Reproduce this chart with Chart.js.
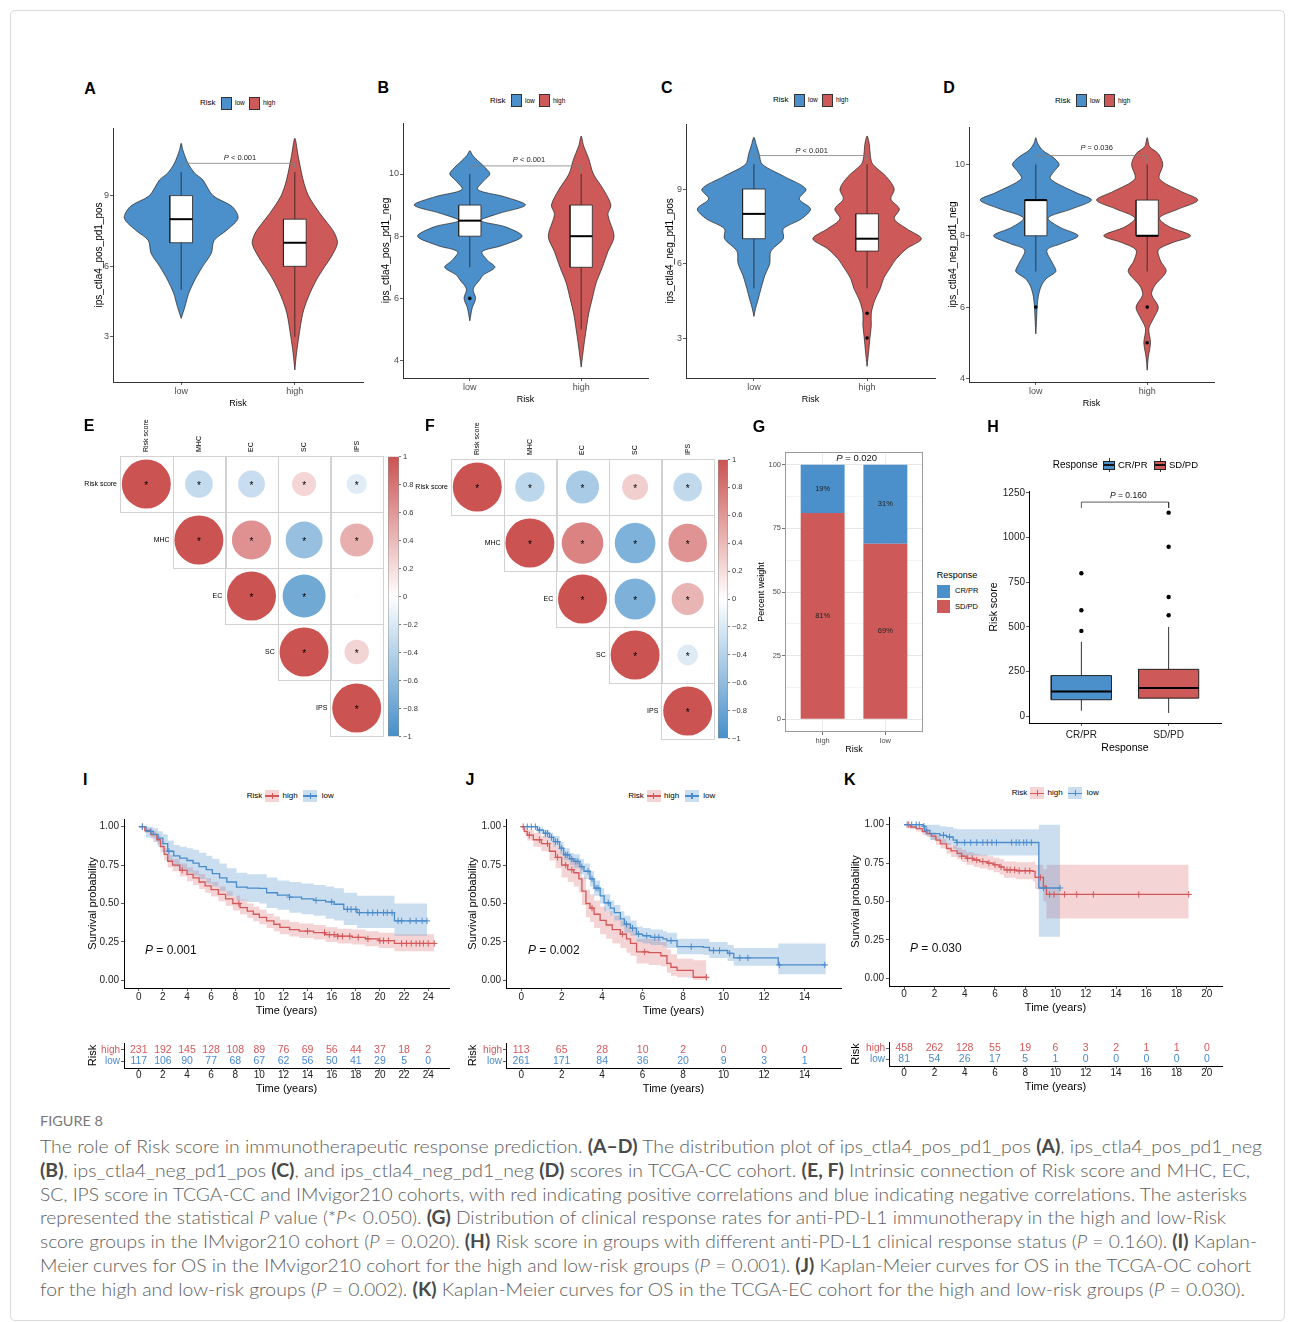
<!DOCTYPE html>
<html lang="en">
<head>
<meta charset="utf-8">
<title>Figure 8</title>
<script src="https://cdn.jsdelivr.net/npm/chart.js@4.4.1/dist/chart.umd.min.js"></script>
<style>
  html, body { margin: 0; padding: 0; background: #ffffff; }
  body { position: relative; width: 1295px; height: 1322px; overflow: hidden; font-family: "Liberation Sans", Arial, sans-serif; }
  #frame { position: absolute; left: 10px; top: 10px; width: 1273px; height: 1309px; border: 1px solid #dadada; border-radius: 5px; }
  canvas { position: absolute; }
  .tx { position: absolute; white-space: nowrap; line-height: 1; color: #000; }
  .bx { position: absolute; box-sizing: border-box; }
  .cap { position: absolute; left: 40px; white-space: nowrap; line-height: 1; font-family: Lato, "Open Sans", sans-serif; font-weight: 300; font-size: 18px; color: #5e5e5e; transform-origin: 0 50%; }
  .cap b { font-weight: 700; color: #4a4a4a; }
</style>
</head>
<body>
<div id="frame"></div>
<script>
// ---------------- data ----------------
const riskGroups = ["low", "high"];

// A  ips_ctla4_pos_pd1_pos (violin outline: value, half width)
const aTicks = [3, 6, 9];
const aLowY = [3.79, 4.3, 4.85, 5.42, 6.0, 6.55, 7.1, 7.53, 8.04, 8.53, 9.0, 9.67, 9.95, 10.37, 10.93, 11.22];
const aLowW = [0, 0.034, 0.066, 0.12, 0.19, 0.265, 0.29, 0.40, 0.5, 0.45, 0.28, 0.19, 0.12, 0.06, 0.015, 0];
const aHighY = [1.6, 2.31, 3.0, 4.0, 4.71, 5.42, 6.0, 6.4, 6.97, 7.4, 7.82, 8.25, 9.0, 9.67, 10.67, 11.43];
const aHighW = [0, 0.015, 0.035, 0.07, 0.12, 0.19, 0.265, 0.32, 0.375, 0.35, 0.29, 0.22, 0.12, 0.073, 0.03, 0];
const aLowBox = [5, 7, 8, 9, 10];
const aHighBox = [3, 6, 7, 8, 10];
const aLowOut = [];
const aHighOut = [];

// B  ips_ctla4_pos_pd1_neg
const bTicks = [4, 6, 8, 10];
const bLowY = [5.28, 5.7, 6.0, 6.3, 6.6, 6.75, 7.0, 7.22, 7.5, 7.7, 8.0, 8.3, 8.5, 8.73, 9.0, 9.27, 9.5, 9.8, 10.0, 10.2, 10.4, 10.6, 10.75];
const bLowW = [0, 0.022, 0.052, 0.03, 0.09, 0.12, 0.225, 0.16, 0.11, 0.29, 0.47, 0.32, 0.1, 0.26, 0.5, 0.31, 0.07, 0.13, 0.18, 0.14, 0.08, 0.025, 0];
const bHighY = [3.79, 4.5, 5.0, 5.5, 6.0, 6.5, 7.0, 7.5, 8.0, 8.7, 9.0, 9.5, 10.0, 10.5, 10.9, 11.22];
const bHighW = [0, 0.025, 0.045, 0.067, 0.1, 0.135, 0.19, 0.24, 0.295, 0.24, 0.267, 0.2, 0.11, 0.067, 0.022, 0];
const bLowBox = [7, 8, 8.5, 9, 10];
const bHighBox = [5, 7, 8, 9, 10];
const bLowOut = [6];
const bHighOut = [];

// C  ips_ctla4_neg_pd1_pos
const cTicks = [3, 6, 9];
const cLowY = [3.87, 4.2, 4.5, 5.0, 5.5, 6.0, 6.5, 7.0, 7.4, 7.8, 8.2, 8.6, 9.0, 9.5, 10.0, 10.4, 10.8, 11.09];
const cLowW = [0, 0.015, 0.034, 0.063, 0.095, 0.14, 0.15, 0.26, 0.26, 0.42, 0.5, 0.40, 0.46, 0.27, 0.073, 0.047, 0.02, 0];
const cHighY = [1.86, 2.5, 3.0, 3.5, 4.0, 4.5, 5.0, 5.4, 5.8, 6.2, 6.6, 7.0, 7.4, 7.8, 8.2, 8.6, 9.0, 9.5, 10.0, 10.3, 10.8, 11.14];
const cHighW = [0, 0.015, 0.025, 0.037, 0.037, 0.066, 0.117, 0.146, 0.2, 0.26, 0.35, 0.48, 0.35, 0.24, 0.285, 0.21, 0.24, 0.17, 0.05, 0.03, 0.02, 0];
const cLowBox = [5, 7, 8, 9, 10];
const cHighBox = [5, 6.5, 7, 8, 10];
const cLowOut = [];
const cHighOut = [4, 3];

// D  ips_ctla4_neg_pd1_neg
const dTicks = [4, 6, 8, 10];
const dLowY = [5.25, 5.6, 6.0, 6.3, 6.6, 6.8, 7.0, 7.2, 7.6, 7.78, 8.0, 8.24, 8.5, 8.75, 9.0, 9.21, 9.6, 9.83, 10.0, 10.2, 10.4, 10.6, 10.75];
const dLowW = [0, 0.006, 0.012, 0.022, 0.05, 0.095, 0.18, 0.155, 0.1, 0.23, 0.38, 0.215, 0.11, 0.32, 0.5, 0.36, 0.13, 0.17, 0.21, 0.155, 0.06, 0.015, 0];
const dHighY = [4.23, 4.6, 5.0, 5.4, 5.7, 6.0, 6.35, 6.6, 7.0, 7.3, 7.6, 7.8, 8.0, 8.25, 8.5, 8.75, 9.0, 9.25, 9.6, 10.0, 10.3, 10.5, 10.75];
const dHighW = [0, 0.01, 0.03, 0.015, 0.06, 0.1, 0.04, 0.067, 0.17, 0.12, 0.1, 0.22, 0.39, 0.2, 0.11, 0.28, 0.455, 0.3, 0.11, 0.14, 0.1, 0.022, 0];
const dLowBox = [7, 8, 9, 9, 10];
const dHighBox = [7, 8, 8, 9, 10];
const dLowOut = [6];
const dHighOut = [6, 5];

// E, F  correlation (upper triangle) and significance
const corrLabels = ["Risk score", "MHC", "EC", "SC", "IPS"];
const corrE = [
  [1, -0.32, -0.30, 0.24, -0.17],
  [null, 1, 0.64, -0.57, 0.46],
  [null, null, 1, -0.77, 0.02],
  [null, null, null, 1, 0.25],
  [null, null, null, null, 1]
];
const sigE = [
  [1, 1, 1, 1, 1],
  [0, 1, 1, 1, 1],
  [0, 0, 1, 1, 0],
  [0, 0, 0, 1, 1],
  [0, 0, 0, 0, 1]
];
const corrF = [
  [1, -0.36, -0.46, 0.28, -0.34],
  [null, 1, 0.72, -0.69, 0.62],
  [null, null, 1, -0.70, 0.43],
  [null, null, null, 1, -0.18],
  [null, null, null, null, 1]
];
const sigF = [
  [1, 1, 1, 1, 1],
  [0, 1, 1, 1, 1],
  [0, 0, 1, 1, 1],
  [0, 0, 0, 1, 1],
  [0, 0, 0, 0, 1]
];
const cbTicks = [-1, -0.8, -0.6, -0.4, -0.2, 0, 0.2, 0.4, 0.6, 0.8, 1];

// G  response rate
const gRisk = ["high", "low"];
const gCRPR = [19, 31];
const gSDPD = [81, 69];
const gTicks = [0, 12.5, 25, 37.5, 50, 62.5, 75, 87.5, 100];

// H  risk score by response (whisker low, q1, median, q3, whisker high)
const hGroups = ["CR/PR", "SD/PD"];
const hTicks = [0, 250, 500, 750, 1000, 1250];
const hBoxCR = [32, 93, 139, 228, 417];
const hOutCR = [478, 593, 800];
const hBoxSD = [19, 102, 158, 263, 500];
const hOutSD = [565, 667, 948, 1139];

// I  IMvigor210 KM
const survTicks = [0, 0.25, 0.5, 0.75, 1];
const iTimes = [0, 2, 4, 6, 8, 10, 12, 14, 16, 18, 20, 22, 24];
const iHighT = [0, 0.5, 1.0, 1.5, 1.8, 2.1, 2.4, 2.8, 3.4, 4.0, 4.5, 5.0, 5.5, 6.0, 6.6, 7.2, 7.8, 8.4, 9.0, 9.5, 10.0, 10.6, 11.2, 11.7, 12.5, 13.3, 14.5, 15.5, 16.5, 17.7, 18.8, 19.9, 21.2, 24.5];
const iHighS = [1, 0.975, 0.948, 0.915, 0.87, 0.82, 0.775, 0.75, 0.716, 0.69, 0.667, 0.64, 0.615, 0.59, 0.56, 0.53, 0.50, 0.473, 0.45, 0.43, 0.41, 0.387, 0.365, 0.344, 0.33, 0.32, 0.31, 0.297, 0.287, 0.28, 0.27, 0.258, 0.24, 0.24];
const iHighLo = [1, 0.96, 0.925, 0.885, 0.835, 0.78, 0.735, 0.71, 0.675, 0.645, 0.62, 0.595, 0.57, 0.545, 0.515, 0.485, 0.455, 0.43, 0.405, 0.385, 0.365, 0.34, 0.32, 0.30, 0.285, 0.275, 0.265, 0.25, 0.24, 0.233, 0.222, 0.21, 0.19, 0.19];
const iHighHi = [1, 0.99, 0.97, 0.945, 0.905, 0.86, 0.815, 0.79, 0.76, 0.735, 0.715, 0.69, 0.665, 0.64, 0.61, 0.58, 0.55, 0.525, 0.50, 0.48, 0.46, 0.435, 0.415, 0.395, 0.38, 0.37, 0.36, 0.345, 0.335, 0.33, 0.32, 0.31, 0.30, 0.30];
const iHighCens = [0.3, 3.6, 8.3, 14.0, 15.4, 15.8, 16.2, 16.5, 16.9, 17.5, 18.2, 19.0, 20.0, 20.3, 20.7, 21.8, 22.2, 22.6, 23.0, 23.3, 23.6, 24.0, 24.5];
const iLowT = [0, 0.6, 1.2, 1.6, 2.0, 2.4, 2.9, 3.4, 4.0, 4.5, 5.0, 5.6, 6.1, 6.7, 7.3, 8.1, 9.0, 10.0, 10.6, 11.5, 12.5, 13.5, 14.5, 15.5, 16.2, 17.0, 18.1, 21.2, 23.9];
const iLowS = [1, 0.97, 0.95, 0.925, 0.89, 0.84, 0.81, 0.795, 0.78, 0.763, 0.74, 0.72, 0.695, 0.667, 0.64, 0.606, 0.60, 0.598, 0.57, 0.555, 0.542, 0.53, 0.52, 0.51, 0.495, 0.462, 0.44, 0.387, 0.387];
const iLowLo = [1, 0.93, 0.90, 0.87, 0.83, 0.77, 0.74, 0.72, 0.70, 0.68, 0.66, 0.63, 0.61, 0.58, 0.55, 0.52, 0.51, 0.50, 0.47, 0.46, 0.44, 0.43, 0.42, 0.40, 0.39, 0.36, 0.34, 0.29, 0.29];
const iLowHi = [1, 1.0, 0.99, 0.97, 0.95, 0.91, 0.88, 0.87, 0.86, 0.85, 0.83, 0.81, 0.79, 0.76, 0.73, 0.70, 0.69, 0.69, 0.67, 0.65, 0.64, 0.63, 0.62, 0.61, 0.60, 0.57, 0.55, 0.50, 0.50];
const iLowCens = [0.3, 1.0, 2.5, 12.5, 14.7, 16.0, 17.3, 17.6, 18.0, 18.3, 19.0, 19.4, 19.8, 20.3, 20.6, 21.0, 21.5, 21.8, 22.5, 23.0, 23.5, 23.9];
const iHighN = [231, 192, 145, 128, 108, 89, 76, 69, 56, 44, 37, 18, 2];
const iLowN = [117, 106, 90, 77, 68, 67, 62, 56, 50, 41, 29, 5, 0];

// J  TCGA-OC KM
const jTimes = [0, 2, 4, 6, 8, 10, 12, 14];
const jHighT = [0, 0.15, 0.3, 0.6, 1.0, 1.4, 1.7, 2.0, 2.3, 2.6, 2.85, 3.0, 3.2, 3.4, 3.6, 3.9, 4.2, 4.5, 4.9, 5.2, 5.4, 5.7, 6.3, 6.9, 7.2, 7.4, 7.7, 8.5, 9.15];
const jHighS = [1, 0.97, 0.945, 0.915, 0.89, 0.84, 0.80, 0.75, 0.72, 0.70, 0.66, 0.58, 0.50, 0.47, 0.43, 0.39, 0.36, 0.33, 0.30, 0.27, 0.24, 0.185, 0.18, 0.16, 0.11, 0.085, 0.065, 0.02, 0.02];
const jHighLo = [1, 0.95, 0.91, 0.87, 0.84, 0.78, 0.73, 0.67, 0.64, 0.61, 0.57, 0.49, 0.41, 0.38, 0.34, 0.30, 0.27, 0.24, 0.21, 0.18, 0.16, 0.11, 0.10, 0.09, 0.05, 0.03, 0.02, 0.003, 0.003];
const jHighHi = [1, 0.99, 0.98, 0.96, 0.94, 0.90, 0.87, 0.83, 0.80, 0.78, 0.75, 0.67, 0.59, 0.56, 0.52, 0.48, 0.45, 0.42, 0.39, 0.36, 0.33, 0.27, 0.27, 0.25, 0.20, 0.17, 0.14, 0.13, 0.13];
const jHighCens = [0.1, 0.4, 0.9, 1.3, 1.8, 2.2, 2.5, 3.5, 5.0, 6.1, 9.15];
const jLowT = [0, 0.8, 1.1, 1.4, 1.6, 1.9, 2.1, 2.4, 2.6, 2.9, 3.1, 3.4, 3.6, 3.9, 4.1, 4.4, 4.6, 4.9, 5.1, 5.4, 5.7, 6.0, 6.4, 7.0, 7.2, 7.7, 9.0, 9.3, 10.2, 10.5, 12.7, 15.05];
const jLowS = [1, 0.978, 0.957, 0.93, 0.903, 0.86, 0.817, 0.79, 0.774, 0.74, 0.71, 0.66, 0.60, 0.55, 0.505, 0.47, 0.44, 0.40, 0.366, 0.34, 0.301, 0.29, 0.28, 0.27, 0.258, 0.219, 0.215, 0.194, 0.176, 0.146, 0.10, 0.10];
const jLowLo = [1, 0.96, 0.93, 0.90, 0.87, 0.82, 0.78, 0.75, 0.73, 0.69, 0.66, 0.61, 0.55, 0.50, 0.45, 0.42, 0.39, 0.35, 0.31, 0.29, 0.25, 0.24, 0.23, 0.22, 0.21, 0.17, 0.165, 0.145, 0.125, 0.095, 0.04, 0.04];
const jLowHi = [1, 0.995, 0.98, 0.96, 0.94, 0.90, 0.86, 0.83, 0.82, 0.79, 0.76, 0.71, 0.65, 0.60, 0.56, 0.52, 0.49, 0.45, 0.42, 0.39, 0.35, 0.34, 0.33, 0.32, 0.31, 0.27, 0.27, 0.25, 0.23, 0.21, 0.24, 0.24];
const jLowCens = [0.3, 0.5, 0.7, 0.9, 1.2, 1.3, 1.5, 1.7, 1.8, 2.0, 2.2, 2.3, 2.5, 2.7, 2.8, 3.0, 3.3, 3.5, 3.7, 3.8, 4.3, 5.2, 5.5, 5.8, 6.2, 6.6, 6.8, 7.4, 8.4, 9.5, 9.8, 10.3, 10.8, 11.2, 12.75, 15.0];
const jHighN = [113, 65, 28, 10, 2, 0, 0, 0];
const jLowN = [261, 171, 84, 36, 20, 9, 3, 1];

// K  TCGA-EC KM
const kTimes = [0, 2, 4, 6, 8, 10, 12, 14, 16, 18, 20];
const kHighT = [0, 0.4, 0.8, 1.2, 1.5, 1.8, 2.1, 2.4, 2.8, 3.1, 3.5, 3.8, 4.1, 4.6, 5.0, 5.5, 5.9, 6.3, 6.6, 7.4, 8.5, 8.65, 9.2, 9.4, 18.8];
const kHighS = [1, 0.985, 0.974, 0.955, 0.942, 0.925, 0.90, 0.875, 0.845, 0.83, 0.813, 0.795, 0.781, 0.77, 0.76, 0.75, 0.739, 0.725, 0.706, 0.70, 0.696, 0.657, 0.60, 0.546, 0.546];
const kHighLo = [1, 0.97, 0.955, 0.935, 0.92, 0.90, 0.87, 0.845, 0.81, 0.79, 0.775, 0.755, 0.74, 0.725, 0.715, 0.705, 0.69, 0.675, 0.655, 0.645, 0.63, 0.58, 0.50, 0.39, 0.39];
const kHighHi = [1, 0.995, 0.99, 0.975, 0.965, 0.95, 0.93, 0.905, 0.88, 0.865, 0.85, 0.835, 0.82, 0.81, 0.805, 0.795, 0.785, 0.775, 0.76, 0.755, 0.76, 0.74, 0.71, 0.74, 0.74];
const kHighCens = [0.3, 3.8, 4.2, 4.5, 4.8, 5.2, 5.6, 6.0, 6.4, 6.8, 7.0, 7.3, 7.6, 8.0, 8.3, 9.0, 9.6, 9.9, 10.6, 11.4, 12.5, 15.5, 18.8];
const kLowT = [0, 1.25, 1.36, 1.69, 2.36, 2.8, 3.24, 3.46, 8.9, 10.3];
const kLowS = [1, 0.99, 0.963, 0.942, 0.931, 0.92, 0.899, 0.884, 0.588, 0.588];
const kLowLo = [1, 0.97, 0.93, 0.90, 0.88, 0.87, 0.84, 0.80, 0.27, 0.27];
const kLowHi = [1, 1, 1, 1, 0.99, 0.985, 0.975, 0.97, 1, 1];
const kLowCens = [0.2, 0.5, 0.8, 1.0, 1.3, 1.5, 2.6, 3.0, 3.5, 4.0, 4.4, 4.8, 5.2, 5.5, 5.8, 6.1, 7.1, 7.4, 7.6, 7.9, 8.1, 8.4, 9.2, 10.3];
const kHighN = [458, 262, 128, 55, 19, 6, 3, 2, 1, 1, 0];
const kLowN = [81, 54, 26, 17, 5, 1, 0, 0, 0, 0, 0];

// ---------------- style ----------------
const COL_LOW = "#4b8fcb";
const COL_HIGH = "#cd5a58";
const KM_RED = "#d4585a";
const KM_BLUE = "#4a8bcb";
const BAND_RED = "rgba(214, 96, 98, 0.27)";
const BAND_BLUE = "rgba(80, 145, 205, 0.30)";
const FONT = '"Liberation Sans", Arial, sans-serif';
const CORR_R = 24.5; // radius in px of a |r| = 1 circle

Chart.defaults.font.family = FONT;
Chart.defaults.color = "#4d4d4d";
Chart.defaults.animation = false;
Chart.defaults.responsive = false;
Chart.defaults.devicePixelRatio = 1;
Chart.defaults.events = [];
Chart.defaults.layout.autoPadding = false;
Chart.defaults.plugins.legend.display = false;
Chart.defaults.plugins.tooltip.enabled = false;
Chart.defaults.elements.point.radius = 0;
Chart.defaults.elements.point.hoverRadius = 0;

// ---------------- helpers ----------------
function place(area, m) {
  const cv = document.createElement("canvas");
  const w = area[2] - area[0] + m.l + m.r;
  const h = area[3] - area[1] + m.t + m.b;
  cv.width = w; cv.height = h;
  cv.style.left = (area[0] - m.l) + "px";
  cv.style.top = (area[1] - m.t) + "px";
  cv.style.width = w + "px"; cv.style.height = h + "px";
  document.body.appendChild(cv);
  return cv;
}

function tx(x, y, html, size, opts = {}) {
  const d = document.createElement("div");
  d.className = "tx";
  d.innerHTML = html;
  d.style.left = x + "px";
  d.style.top = y + "px";
  d.style.fontSize = size + "px";
  if (opts.bold) d.style.fontWeight = "bold";
  if (opts.color) d.style.color = opts.color;
  d.style.transform = opts.center ? "translate(-50%,-50%)" : "translate(0,-50%)";
  document.body.appendChild(d);
  return d;
}

function bx(x, y, w, h, css) {
  const d = document.createElement("div");
  d.className = "bx";
  Object.assign(d.style, { left: x + "px", top: y + "px", width: w + "px", height: h + "px" }, css);
  document.body.appendChild(d);
  return d;
}

function axis(o) {
  const horiz = o.pos === "bottom" || o.pos === "top";
  return {
    type: "linear", position: o.pos, min: o.min, max: o.max, reverse: !!o.reverse, offset: false,
    stacked: !!o.stacked,
    afterBuildTicks: s => { s.ticks = o.ticks.map(v => ({ value: v })); },
    afterFit: s => { if (horiz) s.height = o.size; else s.width = o.size; },
    grid: {
      display: true, offset: false, drawOnChartArea: !!o.grid, color: o.grid || "rgba(0,0,0,0)", lineWidth: o.gridWidth || 1,
      drawTicks: true, tickLength: o.tl === undefined ? 3 : o.tl, tickColor: o.tickColor || "#333", tickWidth: o.tw || 0.8
    },
    border: { display: o.border !== false, color: o.axisColor || "#333", width: o.aw || 1 },
    ticks: {
      autoSkip: false, maxRotation: 0, minRotation: 0, padding: o.pad === undefined ? 2 : o.pad,
      color: o.labelColor || "#4d4d4d", font: { size: o.fs || 9 }, callback: o.fmt || (v => v)
    },
    title: {
      display: !!o.title, text: o.title || "", color: "#000", font: { size: o.tfs || 10 },
      padding: { top: o.tpad || 0, bottom: o.tpad || 0 }
    }
  };
}

function outline(c, ys, ws) {
  const pts = [];
  for (let i = 0; i < ys.length; i++) pts.push({ x: c + ws[i], y: ys[i] });
  for (let i = ys.length - 2; i >= 1; i--) pts.push({ x: c - ws[i], y: ys[i] });
  pts.push({ x: c, y: ys[0] });
  return pts;
}

function rect(c, hw, lo, hi) {
  return [{ x: c - hw, y: lo }, { x: c + hw, y: lo }, { x: c + hw, y: hi }, { x: c - hw, y: hi }, { x: c - hw, y: lo }];
}

function pts(ts, vs) { return ts.map((t, i) => ({ x: t, y: vs[i] })); }

function stepAt(t, ts, ss) {
  let v = ss[0];
  for (let i = 0; i < ts.length; i++) if (ts[i] <= t) v = ss[i];
  return v;
}

function corrColor(v) {
  const a = Math.min(1, Math.abs(v));
  const end = v < 0 ? [70, 143, 201] : [203, 83, 81];
  const c = end.map(k => Math.round(255 + (k - 255) * a));
  return "rgb(" + c.join(",") + ")";
}

// ---------------- violin panels (A-D) ----------------
function violinPanel(area, m, p) {
  const cv = place(area, m);
  const ds = [];
  p.groups.forEach((g, gi) => {
    const c = gi + 1;
    ds.push({ data: outline(c, g.y, g.w), fill: "shape", backgroundColor: g.color, borderColor: "#222", borderWidth: 0.7, tension: 0.3, order: 10 });
    ds.push({ data: [{ x: c, y: g.box[0] }, { x: c, y: g.box[4] }], borderColor: "#222", borderWidth: 0.8, order: 9 });
    ds.push({ data: rect(c, 0.1, g.box[1], g.box[3]), fill: "shape", backgroundColor: "#fff", borderColor: "#222", borderWidth: 0.8, order: 8 });
    ds.push({ data: [{ x: c - 0.1, y: g.box[2] }, { x: c + 0.1, y: g.box[2] }], borderColor: "#000", borderWidth: 2, order: 7 });
    ds.push({ data: g.out.map(v => ({ x: c, y: v })), showLine: false, pointRadius: 1.8, pointBackgroundColor: "#000", pointBorderWidth: 0, order: 6 });
  });
  ds.push({ data: [{ x: 1, y: p.br - 0.2 }, { x: 1, y: p.br }, { x: 2, y: p.br }, { x: 2, y: p.br - 0.2 }], borderColor: "#808080", borderWidth: 0.8, order: 1 });
  new Chart(cv, {
    type: "line",
    data: { datasets: ds },
    options: {
      layout: { padding: { top: m.t, right: m.r, left: 0, bottom: 0 } },
      scales: {
        x: axis({ pos: "bottom", min: 0.4, max: 2.6, ticks: [1, 2], size: m.b, fs: 9, tl: 3, pad: 1, fmt: v => riskGroups[v - 1], title: "Risk", tfs: 9, tpad: 3 }),
        y: axis({ pos: "left", min: p.min, max: p.max, ticks: p.ticks, size: m.l, fs: 9, tl: 3, pad: p.tp, title: p.title, tfs: 10, tpad: p.tpad })
      }
    }
  });
}

violinPanel([113, 128, 363, 382], { l: 22, t: 8, r: 6, b: 30 }, {
  min: 1.09, max: 11.87, ticks: aTicks, title: "ips_ctla4_pos_pd1_pos", tpad: 2.5, tp: 1, br: 10.37,
  groups: [{ y: aLowY, w: aLowW, box: aLowBox, out: aLowOut, color: COL_LOW }, { y: aHighY, w: aHighW, box: aHighBox, out: aHighOut, color: COL_HIGH }]
});
violinPanel([403, 123, 648, 378], { l: 24, t: 8, r: 6, b: 30 }, {
  min: 3.44, max: 11.64, ticks: bTicks, title: "ips_ctla4_pos_pd1_neg", tpad: 1.2, tp: 1, br: 10.26,
  groups: [{ y: bLowY, w: bLowW, box: bLowBox, out: bLowOut, color: COL_LOW }, { y: bHighY, w: bHighW, box: bHighBox, out: bHighOut, color: COL_HIGH }]
});
violinPanel([686, 124, 935, 378], { l: 22, t: 8, r: 6, b: 30 }, {
  min: 1.39, max: 11.62, ticks: cTicks, title: "ips_ctla4_neg_pd1_pos", tpad: 0.7, tp: 1, br: 10.35,
  groups: [{ y: cLowY, w: cLowW, box: cLowBox, out: cLowOut, color: COL_LOW }, { y: cHighY, w: cHighW, box: cHighBox, out: cHighOut, color: COL_HIGH }]
});
violinPanel([969, 127, 1214, 382], { l: 22, t: 8, r: 6, b: 30 }, {
  min: 3.9, max: 11.05, ticks: dTicks, title: "ips_ctla4_neg_pd1_neg", tpad: 0, tp: 1, br: 10.25,
  groups: [{ y: dLowY, w: dLowW, box: dLowBox, out: dLowOut, color: COL_LOW }, { y: dHighY, w: dHighW, box: dHighBox, out: dHighOut, color: COL_HIGH }]
});

// legends and p values for A-D
function riskLegend(x, y) {
  tx(x, y, "Risk", 8);
  bx(x + 21, y - 6.5, 11, 13, { background: COL_LOW, border: "1px solid #333" });
  tx(x + 35, y, "low", 6.5);
  bx(x + 49, y - 6.5, 11, 13, { background: COL_HIGH, border: "1px solid #333" });
  tx(x + 63, y, "high", 6.5);
}
riskLegend(200, 103);
riskLegend(490, 100.7);
riskLegend(773, 100);
riskLegend(1055, 100.7);
tx(240, 157.7, "<i>P</i> &lt; 0.001", 7.5, { center: true, color: "#222" });
tx(529, 160, "<i>P</i> &lt; 0.001", 7.5, { center: true, color: "#222" });
tx(811.7, 150.7, "<i>P</i> &lt; 0.001", 7.5, { center: true, color: "#222" });
tx(1096.7, 148.3, "<i>P</i> = 0.036", 7.5, { center: true, color: "#222" });

// ---------------- correlation panels (E, F) ----------------
const corrDeco = {
  id: "corrDeco",
  beforeDatasetsDraw(chart) {
    const { ctx, scales: { x, y } } = chart;
    ctx.save();
    ctx.strokeStyle = "#d2d2d2";
    ctx.lineWidth = 1;
    for (let i = 0; i < 5; i++) for (let j = i; j < 5; j++) {
      const x0 = x.getPixelForValue(j + 0.5), x1 = x.getPixelForValue(j + 1.5);
      const y0 = y.getPixelForValue(i + 0.5), y1 = y.getPixelForValue(i + 1.5);
      ctx.strokeRect(Math.round(x0) + 0.5, Math.round(y0) + 0.5, Math.round(x1 - x0), Math.round(y1 - y0));
    }
    ctx.restore();
  },
  afterDatasetsDraw(chart) {
    const { ctx, scales: { x, y } } = chart;
    const meta = chart.getDatasetMeta(0);
    const d = chart.data.datasets[0].data;
    ctx.save();
    ctx.fillStyle = "#000";
    ctx.textAlign = "center";
    ctx.textBaseline = "middle";
    ctx.font = "10px " + FONT;
    meta.data.forEach((el, k) => { if (d[k].s) ctx.fillText("*", el.x, el.y + 2); });
    ctx.font = "7px " + FONT;
    ctx.textAlign = "right";
    corrLabels.forEach((lab, i) => ctx.fillText(lab, x.getPixelForValue(i + 0.5) - 3, y.getPixelForValue(i + 1)));
    ctx.textAlign = "left";
    corrLabels.forEach((lab, j) => {
      ctx.save();
      ctx.translate(x.getPixelForValue(j + 1), y.getPixelForValue(0.5) - 4);
      ctx.rotate(-Math.PI / 2);
      ctx.fillText(lab, 0, 0);
      ctx.restore();
    });
    ctx.restore();
  }
};

function corrPanel(area, m, mat, sig) {
  const cv = place(area, m);
  const data = [];
  for (let i = 0; i < 5; i++) for (let j = i; j < 5; j++) {
    const v = mat[i][j];
    data.push({ x: j + 1, y: i + 1, r: CORR_R * Math.sqrt(Math.abs(v)), v, s: sig[i][j] });
  }
  new Chart(cv, {
    type: "bubble",
    data: {
      datasets: [{
        data,
        backgroundColor: data.map(p => corrColor(p.v)),
        borderWidth: 0
      }]
    },
    options: {
      layout: { autoPadding: false, padding: { left: m.l, top: m.t, right: m.r, bottom: m.b } },
      scales: {
        x: { type: "linear", display: false, min: 0.5, max: 5.5 },
        y: { type: "linear", display: false, min: 0.5, max: 5.5, reverse: true }
      }
    },
    plugins: [corrDeco]
  });
}

function colorBar(area, m) {
  const cv = place(area, m);
  new Chart(cv, {
    type: "bar",
    data: {
      labels: [""],
      datasets: [{
        data: [[-1, 1]], barPercentage: 1, categoryPercentage: 1,
        borderColor: "#8c8c8c", borderWidth: 0.8, borderSkipped: false,
        backgroundColor: ctx => {
          const ch = ctx.chart, ca = ch.chartArea;
          if (!ca) return "#fff";
          const g = ch.ctx.createLinearGradient(0, ca.bottom, 0, ca.top);
          cbTicks.forEach(v => g.addColorStop((v + 1) / 2, corrColor(v)));
          return g;
        }
      }]
    },
    options: {
      layout: { padding: { top: m.t, bottom: m.b, left: 0, right: 0 } },
      scales: {
        x: { display: false },
        y: axis({
          pos: "right", min: -1, max: 1, ticks: cbTicks, size: m.r, fs: 7.5, tl: 2, pad: 2, border: false,
          labelColor: "#333", tickColor: "#555",
          fmt: v => (v === 0 ? "0" : (v < 0 ? "\u2212" + Math.abs(v) : String(v)))
        })
      }
    }
  });
}

corrPanel([120, 456, 383, 736], { l: 40, t: 41, r: 2, b: 2 }, corrE, sigE);
colorBar([388, 456, 399, 737], { l: 0, t: 6, r: 24, b: 6 });
corrPanel([451, 459, 714, 739], { l: 40, t: 44, r: 2, b: 2 }, corrF, sigF);
colorBar([718, 459, 728, 739], { l: 0, t: 6, r: 24, b: 6 });

// ---------------- G stacked percent bars ----------------
const gDeco = {
  id: "gDeco",
  afterDatasetsDraw(chart) {
    const { ctx, chartArea: a } = chart;
    ctx.save();
    ctx.font = "7.5px " + FONT;
    ctx.fillStyle = "#222";
    ctx.textAlign = "center";
    ctx.textBaseline = "middle";
    chart.data.datasets.forEach((d, di) => chart.getDatasetMeta(di).data.forEach((el, i) => {
      ctx.fillText(d.data[i].y + "%", el.x, (el.y + el.base) / 2);
    }));
    ctx.strokeStyle = "#9a9a9a";
    ctx.lineWidth = 1;
    ctx.strokeRect(a.left + 0.5, a.top + 0.5, a.width - 1, a.height - 1);
    ctx.restore();
  }
};
(function () {
  const m = { l: 30, t: 6, r: 3, b: 26 };
  const cv = place([785, 452, 923, 732], m);
  new Chart(cv, {
    type: "bar",
    data: {
      datasets: [
        { label: "SD/PD", data: gRisk.map((_, i) => ({ x: i + 1, y: gSDPD[i] })), backgroundColor: COL_HIGH, barPercentage: 0.7, categoryPercentage: 1 },
        { label: "CR/PR", data: gRisk.map((_, i) => ({ x: i + 1, y: gCRPR[i] })), backgroundColor: COL_LOW, barPercentage: 0.7, categoryPercentage: 1 }
      ]
    },
    options: {
      layout: { padding: { top: m.t, right: m.r, left: 0, bottom: 0 } },
      scales: {
        x: axis({ pos: "bottom", min: 0.4, max: 2.6, ticks: [1, 2], size: m.b, fs: 7.5, tl: 3, pad: 1, border: false, stacked: true,
          grid: "#ebebeb", tickColor: "#555", fmt: v => gRisk[v - 1], title: "Risk", tfs: 9, tpad: 2.6 }),
        y: axis({ pos: "left", min: -5, max: 105, ticks: gTicks, size: m.l, fs: 7.5, tl: 3, pad: 1, border: false, stacked: true,
          grid: ctx => (ctx.tick && ctx.tick.value % 25 === 0 ? "#e6e6e6" : "#f3f3f3"),
          tickColor: ctx => (ctx.tick && ctx.tick.value % 25 === 0 ? "#555" : "rgba(0,0,0,0)"),
          fmt: v => (v % 25 === 0 ? v : ""), title: "Percent weight", tfs: 9, tpad: 1.3 })
      }
    },
    plugins: [gDeco]
  });
})();
tx(856.7, 458.3, "<i>P</i> = 0.020", 9.5, { center: true, color: "#111" });
tx(936.7, 575, "Response", 9);
bx(937, 584.5, 13, 13, { background: COL_LOW });
tx(955, 591, "CR/PR", 7.5);
bx(937, 600, 13, 13, { background: COL_HIGH });
tx(955, 606.7, "SD/PD", 7.5);

// ---------------- H box plot ----------------
(function () {
  const m = { l: 42, t: 6, r: 4, b: 32 };
  const cv = place([1029, 490, 1221, 723], m);
  const ds = [];
  [[hBoxCR, hOutCR, COL_LOW], [hBoxSD, hOutSD, COL_HIGH]].forEach(([b, out, col], gi) => {
    const c = gi + 1;
    ds.push({ data: [{ x: c, y: b[0] }, { x: c, y: b[4] }], borderColor: "#333", borderWidth: 1, order: 9 });
    ds.push({ data: rect(c, 0.345, b[1], b[3]), fill: "shape", backgroundColor: col, borderColor: "#222", borderWidth: 1, order: 8 });
    ds.push({ data: [{ x: c - 0.345, y: b[2] }, { x: c + 0.345, y: b[2] }], borderColor: "#000", borderWidth: 2, order: 7 });
    ds.push({ data: out.map(v => ({ x: c, y: v })), showLine: false, pointRadius: 2.2, pointBackgroundColor: "#000", pointBorderWidth: 0, order: 6 });
  });
  const br = 1198;
  ds.push({ data: [{ x: 1, y: br - 33 }, { x: 1, y: br }, { x: 2, y: br }, { x: 2, y: br - 33 }], borderColor: "#333", borderWidth: 0.8, order: 1 });
  new Chart(cv, {
    type: "line",
    data: { datasets: ds },
    options: {
      layout: { padding: { top: m.t, right: m.r, left: 0, bottom: 0 } },
      scales: {
        x: axis({ pos: "bottom", min: 0.4, max: 2.6, ticks: [1, 2], size: m.b, fs: 10, tl: 3, pad: 3, axisColor: "#000", labelColor: "#222",
          fmt: v => hGroups[v - 1], title: "Response", tfs: 10.5, tpad: 0.5 }),
        y: axis({ pos: "left", min: -37, max: 1260, ticks: hTicks, size: m.l, fs: 10, tl: 3, pad: 1, axisColor: "#000", labelColor: "#222",
          title: "Risk score", tfs: 10.5, tpad: 0.7 })
      }
    }
  });
})();
tx(1128.3, 495, "<i>P</i> = 0.160", 8.5, { center: true, color: "#111" });
function boxKey(x, y, fill) {
  bx(x + 5.5, y - 7, 1, 14, { background: "#333" });
  bx(x, y - 4.5, 12, 9, { background: fill, border: "1px solid #222" });
  bx(x + 1, y - 0.6, 10, 1.2, { background: "#111" });
}
tx(1052.7, 465, "Response", 10);
boxKey(1103, 465, COL_LOW);
tx(1118, 465, "CR/PR", 9.5);
boxKey(1154, 465, COL_HIGH);
tx(1169, 465, "SD/PD", 9.5);

// ---------------- KM panels (I, J, K) ----------------
// stepped "before": hold the previous value, then drop at the next time
function kmPanel(area, m, o, curves) {
  const cv = place(area, m);
  const ds = [];
  curves.forEach((c, ci) => {
    ds.push({ data: pts(c.t, c.hi), stepped: "before", borderColor: "rgba(0,0,0,0)", borderWidth: 1, pointRadius: 0, fill: false, order: 30 - 2 * ci });
    ds.push({ data: pts(c.t, c.lo), stepped: "before", borderColor: "rgba(0,0,0,0)", borderWidth: 1, pointRadius: 0, fill: "-1", backgroundColor: c.band, order: 29 - 2 * ci });
  });
  curves.forEach((c, ci) => {
    ds.push({ data: pts(c.t, c.s), stepped: "before", borderColor: c.color, borderWidth: 1.3, pointRadius: 0, order: 10 - ci });
    ds.push({ data: c.cens.map(t => ({ x: t, y: stepAt(t, c.t, c.s) })), showLine: false, pointStyle: "cross", pointRadius: 3.2,
      borderColor: c.color, pointBorderWidth: 1, order: 5 - ci });
  });
  new Chart(cv, {
    type: "line",
    data: { datasets: ds },
    options: {
      layout: { padding: { top: m.t, right: m.r, left: 0, bottom: 0 } },
      scales: {
        x: axis({ pos: "bottom", min: o.xmin, max: o.xmax, ticks: o.ticks, size: m.b, fs: 10, tl: 3, pad: o.xp, axisColor: "#000", labelColor: "#222",
          title: "Time (years)", tfs: 11, tpad: o.xtp }),
        y: axis({ pos: "left", min: -0.05, max: 1.05, ticks: survTicks, size: m.l, fs: 10, tl: 3, pad: 2, axisColor: "#000", labelColor: "#222",
          fmt: v => v.toFixed(2), title: "Survival probability", tfs: 11, tpad: o.ytp })
      }
    }
  });
}

const numberPlugin = {
  id: "numbers",
  afterDatasetsDraw(chart) {
    const c = chart.ctx;
    c.save();
    c.font = "10.5px " + FONT;
    c.textAlign = "center";
    c.textBaseline = "middle";
    chart.data.datasets.forEach((d, di) => {
      chart.getDatasetMeta(di).data.forEach((el, i) => {
        c.fillStyle = d.borderColor;
        c.fillText(String(d.data[i].n), el.x, el.y);
      });
    });
    c.restore();
  }
};

function riskTable(area, m, o, times, high, low) {
  const cv = place(area, m);
  new Chart(cv, {
    type: "line",
    data: {
      datasets: [
        { data: times.map((t, i) => ({ x: t, y: 2, n: high[i] })), showLine: false, pointRadius: 0, borderColor: KM_RED },
        { data: times.map((t, i) => ({ x: t, y: 1, n: low[i] })), showLine: false, pointRadius: 0, borderColor: KM_BLUE }
      ]
    },
    options: {
      layout: { padding: { top: m.t, right: m.r, left: 0, bottom: 0 } },
      scales: {
        x: axis({ pos: "bottom", min: o.xmin, max: o.xmax, ticks: times, size: m.b, fs: 10, tl: 3, pad: -1.5, axisColor: "#000", labelColor: "#222",
          title: "Time (years)", tfs: 11, tpad: 0 }),
        y: axis({ pos: "left", min: 0.4, max: 2.6, ticks: [1, 2], size: m.l, fs: 10, tl: 3, pad: 1, axisColor: "#000",
          labelColor: ctx => (ctx.tick && ctx.tick.value === 2 ? KM_RED : KM_BLUE),
          fmt: v => (v === 2 ? "high" : "low"), title: "Risk", tfs: 11, tpad: o.ytp })
      }
    },
    plugins: [numberPlugin]
  });
}

const iOpts = { xmin: -1.225, xmax: 25.725, ticks: iTimes, xp: 0, xtp: 0.5, ytp: 0.7 };
kmPanel([124, 817, 449, 988], { l: 38, t: 6, r: 6, b: 30 }, iOpts, [
  { t: iHighT, s: iHighS, lo: iHighLo, hi: iHighHi, cens: iHighCens, color: KM_RED, band: BAND_RED },
  { t: iLowT, s: iLowS, lo: iLowLo, hi: iLowHi, cens: iLowCens, color: KM_BLUE, band: BAND_BLUE }
]);
riskTable([124, 1040, 449, 1068], { l: 38, t: 4, r: 6, b: 28 }, iOpts, iTimes, iHighN, iLowN);

const jOpts = { xmin: -0.75, xmax: 15.8, ticks: jTimes, xp: 0, xtp: 0.5, ytp: 0.7 };
kmPanel([506, 817, 841, 988], { l: 40, t: 6, r: 6, b: 30 }, jOpts, [
  { t: jHighT, s: jHighS, lo: jHighLo, hi: jHighHi, cens: jHighCens, color: KM_RED, band: BAND_RED },
  { t: jLowT, s: jLowS, lo: jLowLo, hi: jLowHi, cens: jLowCens, color: KM_BLUE, band: BAND_BLUE }
]);
riskTable([506, 1040, 841, 1068], { l: 40, t: 4, r: 6, b: 28 }, jOpts, jTimes, jHighN, jLowN);

const kOpts = { xmin: -1, xmax: 21, ticks: kTimes, xp: -1, xtp: 1.5, ytp: 0.4 };
kmPanel([889, 815, 1222, 986], { l: 40, t: 6, r: 6, b: 30 }, kOpts, [
  { t: kHighT, s: kHighS, lo: kHighLo, hi: kHighHi, cens: kHighCens, color: KM_RED, band: BAND_RED },
  { t: kLowT, s: kLowS, lo: kLowLo, hi: kLowHi, cens: kLowCens, color: KM_BLUE, band: BAND_BLUE }
]);
riskTable([889, 1039, 1222, 1066], { l: 40, t: 4, r: 6, b: 28 }, kOpts, kTimes, kHighN, kLowN);

function kmKey(x, y, line, band) {
  bx(x, y - 6, 14, 12, { background: band });
  bx(x, y - 0.6, 14, 1.3, { background: line });
  bx(x + 6.5, y - 3, 1.2, 6, { background: line });
}
function kmLegend(x, y) {
  tx(x, y, "Risk", 8);
  kmKey(x + 18.3, y, KM_RED, BAND_RED);
  tx(x + 35.8, y, "high", 8);
  kmKey(x + 56.6, y, KM_BLUE, BAND_BLUE);
  tx(x + 75, y, "low", 8);
}
kmLegend(246.7, 796);
kmLegend(628.3, 796);
kmLegend(1011.7, 793.3);
tx(145, 950, "<i>P</i> = 0.001", 12, { color: "#111" });
tx(528, 950, "<i>P</i> = 0.002", 12, { color: "#111" });
tx(910, 947.7, "<i>P</i> = 0.030", 12, { color: "#111" });

// ---------------- panel letters ----------------
[["A", 90, 88.5], ["B", 383.3, 88.3], ["C", 666.7, 88.3], ["D", 949, 88.3],
 ["E", 89, 426], ["F", 430, 426], ["G", 759, 426.7], ["H", 993, 426.7],
 ["I", 85.3, 780], ["J", 470, 780], ["K", 849.7, 780]].forEach(([s, x, y]) => tx(x, y, s, 16, { bold: true, center: true }));

// ---------------- caption ----------------
const capLines = [
  'The role of Risk score in immunotherapeutic response prediction. <b>(A\u2013D)</b> The distribution plot of ips_ctla4_pos_pd1_pos <b>(A)</b>, ips_ctla4_pos_pd1_neg',
  '<b>(B)</b>, ips_ctla4_neg_pd1_pos <b>(C)</b>, and ips_ctla4_neg_pd1_neg <b>(D)</b> scores in TCGA-CC cohort. <b>(E, F)</b> Intrinsic connection of Risk score and MHC, EC,',
  'SC, IPS score in TCGA-CC and IMvigor210 cohorts, with red indicating positive correlations and blue indicating negative correlations. The asterisks',
  'represented the statistical <i>P</i> value (*<i>P</i>&lt; 0.050). <b>(G)</b> Distribution of clinical response rates for anti-PD-L1 immunotherapy in the high and low-Risk',
  'score groups in the IMvigor210 cohort (<i>P</i> = 0.020). <b>(H)</b> Risk score in groups with different anti-PD-L1 clinical response status (<i>P</i> = 0.160). <b>(I)</b> Kaplan-',
  'Meier curves for OS in the IMvigor210 cohort for the high and low-risk groups (<i>P</i> = 0.001). <b>(J)</b> Kaplan-Meier curves for OS in the TCGA-OC cohort',
  'for the high and low-risk groups (<i>P</i> = 0.002). <b>(K)</b> Kaplan-Meier curves for OS in the TCGA-EC cohort for the high and low-risk groups (<i>P</i> = 0.030).'
];
const capRight = [1262, 1250, 1247, 1226, 1257, 1251, 1245];
const capY = [1146, 1170, 1193.5, 1217, 1241, 1265, 1289];

const figLab = document.createElement("div");
figLab.className = "cap";
figLab.style.fontSize = "13px";
figLab.style.color = "#777";
figLab.style.fontWeight = "400";
figLab.style.top = (1121 - 6.5) + "px";
figLab.textContent = "FIGURE 8";
document.body.appendChild(figLab);

const capEls = capLines.map((h, i) => {
  const d = document.createElement("div");
  d.className = "cap";
  d.innerHTML = h;
  d.style.top = (capY[i] - 9) + "px";
  document.body.appendChild(d);
  return d;
});
function fitCaption() {
  capEls.forEach((d, i) => {
    d.style.transform = "none";
    const w = d.getBoundingClientRect().width;
    d.style.transform = "scaleX(" + ((capRight[i] - 40) / w) + ")";
  });
  figLab.style.transform = "none";
  const fw = figLab.getBoundingClientRect().width;
  figLab.style.transform = "scaleX(" + (63 / fw) + ")";
}
fitCaption();
if (document.fonts && document.fonts.ready) document.fonts.ready.then(fitCaption);
</script>
</body>
</html>
